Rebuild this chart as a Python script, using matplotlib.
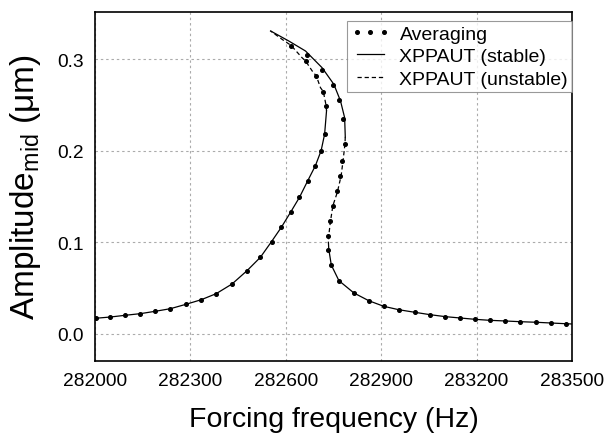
import matplotlib
matplotlib.use("Agg")
import matplotlib.pyplot as plt

plt.rcParams['font.family'] = ['Liberation Sans', 'DejaVu Sans']
plt.rcParams['mathtext.fontset'] = 'custom'
plt.rcParams['mathtext.rm'] = 'Liberation Sans'

# XPPAUT continuation branches (frequency Hz, amplitude um)
stable1_f = [282000, 282048, 282095, 282143, 282190, 282237, 282286, 282334, 282381, 282431,
             282478, 282520, 282555, 282586, 282615, 282643, 282669, 282693, 282711, 282722, 282728]
stable1_a = [0.0170, 0.0184, 0.0203, 0.0221, 0.0247, 0.0275, 0.0323, 0.0373, 0.0439, 0.0545,
             0.0690, 0.0836, 0.1007, 0.1164, 0.1328, 0.1491, 0.1672, 0.1836, 0.2000, 0.2180, 0.2433]

unstable1_f = [282728, 282727, 282718, 282709, 282696, 282683, 282662, 282651, 282617, 282588, 282552]
unstable1_a = [0.2433, 0.2488, 0.2644, 0.2688, 0.2815, 0.2870, 0.2980, 0.3015, 0.3148, 0.3216, 0.3307]

stable2_f = [282552, 282609, 282662, 282714, 282751, 282772, 282785, 282787]
stable2_a = [0.3307, 0.3198, 0.3088, 0.2906, 0.2725, 0.2543, 0.2360, 0.2150]

unstable2_f = [282787, 282786, 282780, 282774, 282762, 282748, 282740, 282735, 282734]
unstable2_a = [0.2150, 0.2072, 0.1891, 0.1727, 0.1546, 0.1400, 0.1218, 0.1072, 0.1000]

stable3_f = [282734, 282735, 282743, 282767, 282814, 282861, 282908, 282955, 283005, 283053,
             283102, 283147, 283195, 283242, 283289, 283338, 283386, 283433, 283480, 283500]
stable3_a = [0.1000, 0.0927, 0.0752, 0.0581, 0.0447, 0.0362, 0.0301, 0.0264, 0.0236, 0.0210,
             0.0188, 0.0174, 0.0159, 0.0148, 0.0141, 0.0133, 0.0127, 0.0119, 0.0111, 0.0108]

# Averaging method points
avg_f = [282003, 282048, 282095, 282143, 282190, 282237, 282286, 282334, 282381, 282431, 282478,
         282520, 282555, 282586, 282615, 282643, 282669, 282693, 282711, 282722,
         282727, 282718, 282696, 282662, 282617,
         282667, 282714, 282748, 282767, 282781,
         282786, 282778, 282770, 282760, 282748, 282740, 282733, 282732, 282743,
         282767, 282814, 282861, 282908, 282955, 283005, 283053, 283102, 283147, 283195,
         283242, 283289, 283338, 283386, 283433, 283480]
avg_a = [0.0170, 0.0184, 0.0203, 0.0221, 0.0247, 0.0275, 0.0323, 0.0373, 0.0439, 0.0545, 0.0690,
         0.0836, 0.1007, 0.1164, 0.1328, 0.1491, 0.1672, 0.1836, 0.2000, 0.2180,
         0.2488, 0.2644, 0.2815, 0.2980, 0.3148,
         0.3041, 0.2878, 0.2717, 0.2550, 0.2346,
         0.2072, 0.1891, 0.1721, 0.1560, 0.1393, 0.1229, 0.1072, 0.0919, 0.0755,
         0.0581, 0.0447, 0.0362, 0.0301, 0.0264, 0.0236, 0.0210, 0.0188, 0.0174, 0.0159,
         0.0148, 0.0141, 0.0133, 0.0127, 0.0119, 0.0111]

xticks = [282000, 282300, 282600, 282900, 283200, 283500]
yticks = [0.0, 0.1, 0.2, 0.3]

fig = plt.figure(figsize=(6.06, 4.39), dpi=100)
ax = fig.add_axes([0.1568, 0.1754, 0.9439 - 0.1568, 0.9704 - 0.1754])

lw = 0.9
dash = (0, (3.4, 2.3))
ax.plot(avg_f, avg_a, linestyle='none', marker='o', markersize=2.6, color='black',
        label='Averaging', zorder=3)
ax.plot(stable1_f, stable1_a, color='black', lw=lw, label='XPPAUT (stable)')
ax.plot(unstable1_f, unstable1_a, color='black', lw=lw, linestyle=dash, label='XPPAUT (unstable)')
ax.plot(stable2_f, stable2_a, color='black', lw=lw)
ax.plot(unstable2_f, unstable2_a, color='black', lw=lw, linestyle=dash)
ax.plot(stable3_f, stable3_a, color='black', lw=lw)

ax.set_xlim(282000, 283500)
ax.set_ylim(-0.0296, 0.3514)
ax.set_xticks(xticks)
ax.set_xticklabels([str(t) for t in xticks])
ax.set_yticks(yticks)
ax.set_yticklabels([f"{t:.1f}" for t in yticks])
ax.tick_params(length=0, labelsize=13.8, pad=8)
ax.grid(True, color='#ababab', linestyle=(0, (2.2, 2.6)), linewidth=0.8)
ax.set_axisbelow(True)
for s in ax.spines.values():
    s.set_linewidth(1.2)
    s.set_color('black')

ax.set_xlabel('Forcing frequency (Hz)', fontsize=20.5, labelpad=12)
ax.set_ylabel(r'Amplitude$_{\mathrm{mid}}$ (μm)', fontsize=24, labelpad=10)

leg = ax.legend(loc='upper right', bbox_to_anchor=(1.0, 0.9734), borderaxespad=0,
                fontsize=14, numpoints=3, handlelength=2.0, handletextpad=0.5,
                labelspacing=0.25, borderpad=0.2, frameon=True, fancybox=False)
leg.get_frame().set_edgecolor('#808080')
leg.get_frame().set_linewidth(0.8)

fig.savefig('out.png', dpi=100)
